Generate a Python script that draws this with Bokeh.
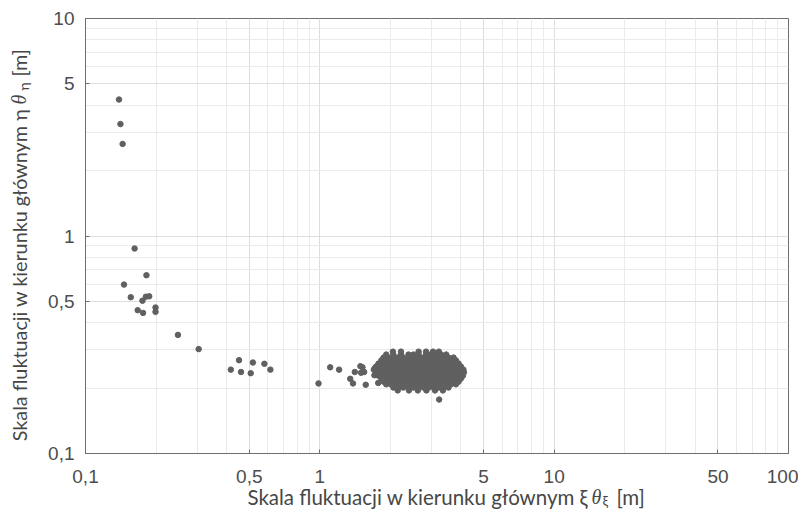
from bokeh.plotting import figure
from bokeh.layouts import column, row
from bokeh.models import FixedTicker, CustomJSTickFormatter, Label
from bokeh.embed import file_html
from bokeh.resources import INLINE

# ---- data ----
x_ticks = [0.1, 0.5, 1, 5, 10, 50, 100]
y_ticks = [0.1, 0.5, 1, 5, 10]
x_minor = [0.2, 0.3, 0.4, 0.6, 0.7, 0.8, 0.9, 2, 3, 4, 6, 7, 8, 9, 20, 30, 40, 60, 70, 80, 90]
y_minor = [0.2, 0.3, 0.4, 0.6, 0.7, 0.8, 0.9, 2, 3, 4, 6, 7, 8, 9]

sparse_xi = [0.139, 0.141, 0.144, 0.162, 0.182, 0.146, 0.156, 0.175, 0.181, 0.187,
             0.167, 0.176, 0.199, 0.199, 0.248, 0.304, 0.417, 0.452, 0.461, 0.507,
             0.518, 0.580, 0.615, 0.987, 1.107, 1.208, 1.348, 1.385, 1.41, 1.49,
             1.52, 1.50, 1.546, 1.57, 1.718, 1.74, 1.775, 1.71, 1.735, 3.23]
sparse_eta = [4.24, 3.27, 2.65, 0.876, 0.660, 0.598, 0.523, 0.504, 0.526, 0.528,
              0.456, 0.443, 0.469, 0.448, 0.351, 0.302, 0.243, 0.2685, 0.237, 0.234,
              0.262, 0.2585, 0.243, 0.210, 0.249, 0.243, 0.2205, 0.210, 0.237, 0.252,
              0.249, 0.235, 0.237, 0.207, 0.247, 0.230, 0.211, 0.229, 0.250, 0.177]

cluster_eta_rows = [0.294, 0.285, 0.276, 0.268, 0.259, 0.251, 0.243, 0.236,
                    0.228, 0.221, 0.214, 0.208, 0.201, 0.195]
cluster_xi_rows = [
    [2.05, 2.22, 2.64, 2.84, 3.04, 3.22],
    [1.92, 2.06, 2.22, 2.39, 2.51, 2.64, 2.84, 2.98, 3.13, 3.29, 3.46],
    [1.87, 1.96, 2.06, 2.16, 2.27, 2.39, 2.51, 2.64, 2.77, 2.91, 3.06, 3.21, 3.37, 3.54, 3.72],
    [1.83, 1.92, 2.01, 2.11, 2.22, 2.33, 2.45, 2.57, 2.70, 2.84, 2.98, 3.13, 3.29, 3.46, 3.63, 3.81],
    [1.78, 1.87, 1.96, 2.06, 2.16, 2.27, 2.39, 2.51, 2.64, 2.77, 2.91, 3.06, 3.21, 3.37, 3.54, 3.72, 3.91],
    [1.74, 1.83, 1.92, 2.01, 2.11, 2.22, 2.33, 2.45, 2.57, 2.70, 2.84, 2.98, 3.13, 3.29, 3.46, 3.63, 3.81, 4.00],
    [1.70, 1.78, 1.87, 1.96, 2.06, 2.16, 2.27, 2.39, 2.51, 2.64, 2.77, 2.91, 3.06, 3.21, 3.37, 3.54, 3.72, 3.91, 4.10],
    [1.74, 1.83, 1.92, 2.01, 2.11, 2.22, 2.33, 2.45, 2.57, 2.70, 2.84, 2.98, 3.13, 3.29, 3.46, 3.63, 3.81, 4.00, 4.12],
    [1.78, 1.87, 1.96, 2.06, 2.16, 2.27, 2.39, 2.51, 2.64, 2.77, 2.91, 3.06, 3.21, 3.37, 3.54, 3.72, 3.91, 4.08],
    [1.83, 1.92, 2.01, 2.11, 2.22, 2.33, 2.45, 2.57, 2.70, 2.84, 2.98, 3.13, 3.29, 3.46, 3.63, 3.81, 4.00],
    [1.87, 1.96, 2.06, 2.16, 2.27, 2.39, 2.51, 2.64, 2.77, 2.91, 3.06, 3.21, 3.37, 3.54, 3.72, 3.91],
    [1.92, 2.01, 2.11, 2.22, 2.33, 2.45, 2.57, 2.70, 2.84, 2.98, 3.13, 3.29, 3.46, 3.63, 3.81],
    [2.06, 2.16, 2.27, 2.39, 2.51, 2.64, 2.77, 2.91, 3.06, 3.21, 3.37, 3.54],
    [2.15, 2.40, 2.62, 2.85, 3.10, 3.35],
]

x_label_main = "Skala fluktuacji w kierunku głównym ξ"
y_label_main = "Skala fluktuacji w kierunku głównym η"
theta = "θ"
x_sub = "ξ"
y_sub = "η"
unit = "[m]"

cluster_xi = []
cluster_eta = []
for eta, row_vals in zip(cluster_eta_rows, cluster_xi_rows):
    for xi in row_vals:
        cluster_xi.append(xi)
        cluster_eta.append(eta)

all_xi = sparse_xi + cluster_xi
all_eta = sparse_eta + cluster_eta

# ---- main figure ----
p = figure(width=758, height=494, x_axis_type="log", y_axis_type="log",
           x_range=(0.1, 100), y_range=(0.1, 10),
           output_backend="svg", toolbar_location=None,
           min_border_left=45, min_border_right=10, min_border_top=18, min_border_bottom=41)
p.background_fill_color = "white"
p.border_fill_color = "white"
p.outline_line_color = "#6e6e6e"
p.outline_line_width = 1

p.xaxis.ticker = FixedTicker(ticks=x_ticks, minor_ticks=x_minor)
p.yaxis.ticker = FixedTicker(ticks=y_ticks, minor_ticks=y_minor)
fmt = CustomJSTickFormatter(code="return tick.toString().replace('.', ',');")
p.xaxis.formatter = fmt
p.yaxis.formatter = fmt

for ax in (p.xaxis, p.yaxis):
    ax.axis_line_color = "#6e6e6e"
    ax.major_tick_in = 4
    ax.major_tick_out = 0
    ax.major_tick_line_color = "#6e6e6e"
    ax.minor_tick_line_color = None
    ax.major_label_text_font = "Liberation Sans"
    ax.major_label_text_font_size = "19px"
    ax.major_label_text_color = "#4d4d4d"
p.xaxis.major_label_standoff = 12
p.yaxis.major_label_standoff = 7

p.xgrid.grid_line_color = "#dedede"
p.ygrid.grid_line_color = "#dedede"
p.xgrid.minor_grid_line_color = "#ebebeb"
p.ygrid.minor_grid_line_color = "#ebebeb"

p.scatter(all_xi, all_eta, size=5.5, color="#606060", line_color="#606060")

lab_font = "Lato"
lab_size = "20.5px"
ylab_size = "19.8px"
sub_size = "14px"
theta_size = "20px"
lab_col = "#474747"


def blank(w, h, styles=None):
    f = figure(width=w, height=h, output_backend="svg", toolbar_location=None,
               x_axis_location=None, y_axis_location=None,
               min_border_left=0, min_border_right=0, min_border_top=0, min_border_bottom=0,
               x_range=(0, w), y_range=(0, h))
    f.outline_line_color = None
    f.xgrid.visible = False
    f.ygrid.visible = False
    f.background_fill_color = None
    f.border_fill_color = None
    if styles:
        f.styles = styles
    return f


# ---- y label panel (its frame lines up with the main frame: page y 18..453) ----
FB = 453
yl = blank(40, 494)
ang = 1.5707963
yl.add_layout(Label(x=18.5, y=FB - 108, x_units="screen", y_units="screen", angle=ang,
                    text=y_label_main, text_align="right", text_baseline="alphabetic",
                    text_font=lab_font, text_font_size=ylab_size, text_color=lab_col))
yl.add_layout(Label(x=18.5, y=FB - 104, x_units="screen", y_units="screen", angle=ang,
                    text=theta, text_align="left", text_font_style="italic",
                    text_baseline="alphabetic", text_font="Liberation Serif",
                    text_font_size=theta_size, text_color=lab_col))
yl.add_layout(Label(x=23, y=FB - 90, x_units="screen", y_units="screen", angle=ang,
                    text=y_sub, text_align="left", text_baseline="alphabetic",
                    text_font=lab_font, text_font_size=sub_size, text_color=lab_col))
yl.add_layout(Label(x=18.5, y=FB - 76, x_units="screen", y_units="screen", angle=ang,
                    text=unit, text_align="left", text_baseline="alphabetic",
                    text_font=lab_font, text_font_size=ylab_size, text_color=lab_col))

# ---- x label panel (page x 0..798, pulled up over the axis) ----
xl = blank(798, 30, styles={"margin-top": "-12px"})
xl.add_layout(Label(x=588, y=16, x_units="screen", y_units="screen",
                    text=x_label_main, text_align="right", text_baseline="alphabetic",
                    text_font=lab_font, text_font_size=lab_size, text_color=lab_col))
xl.add_layout(Label(x=591, y=16, x_units="screen", y_units="screen",
                    text=theta, text_align="left", text_font_style="italic",
                    text_baseline="alphabetic", text_font="Liberation Serif",
                    text_font_size=theta_size, text_color=lab_col))
xl.add_layout(Label(x=602, y=12, x_units="screen", y_units="screen",
                    text=x_sub, text_align="left", text_baseline="alphabetic",
                    text_font=lab_font, text_font_size=sub_size, text_color=lab_col))
xl.add_layout(Label(x=616, y=16, x_units="screen", y_units="screen",
                    text=unit, text_align="left", text_baseline="alphabetic",
                    text_font=lab_font, text_font_size=lab_size, text_color=lab_col))

layout = column(row(yl, p), xl)
open("out.html", "w").write(file_html(layout, INLINE))
